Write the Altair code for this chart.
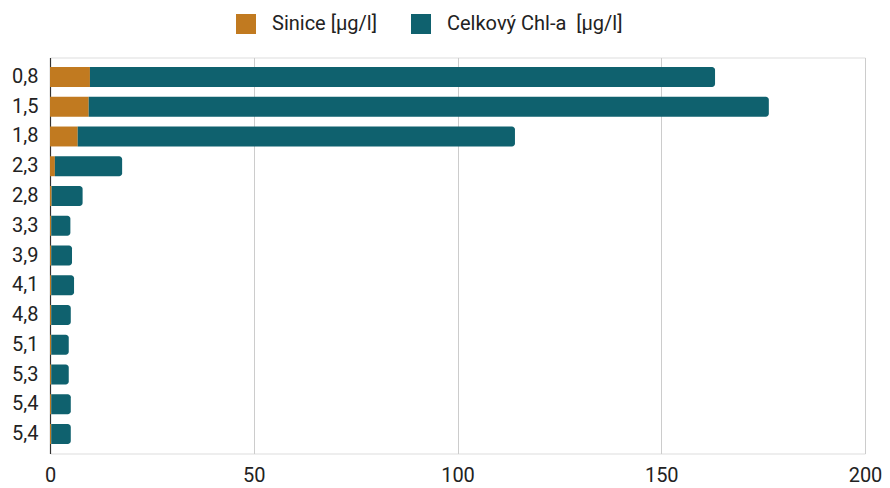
import json
import altair as alt
import pandas as pd

categories = ["0,8", "1,5", "1,8", "2,3", "2,8", "3,3", "3,9", "4,1", "4,8", "5,1", "5,3", "5,4", "5,4"]
sinice = [9.8, 9.5, 6.8, 1.2, 0.4, 0.3, 0.3, 0.3, 0.3, 0.3, 0.3, 0.3, 0.3]
chl = [153.4, 166.9, 107.3, 16.5, 7.6, 4.7, 5.1, 5.6, 4.8, 4.3, 4.3, 4.8, 4.8]
series = ["Sinice [µg/l]", "Celkový Chl-a\u00a0 [µg/l]"]
colors = ["#C17A20", "#0F616E"]

rows = []
for i, (c, s, h) in enumerate(zip(categories, sinice, chl)):
    rows.append({"idx": i, "series": series[0], "start": 0.0, "end": s})
    rows.append({"idx": i, "series": series[1], "start": s, "end": s + h})
df = pd.DataFrame(rows)

label_expr = json.dumps(categories) + "[datum.value]"

color = alt.Color(
    "series:N",
    scale=alt.Scale(domain=series, range=colors),
    sort=series,
    legend=alt.Legend(
        title=None, orient="none", legendX=186, legendY=-43.5, direction="horizontal",
        symbolType="square", symbolSize=400, symbolStrokeWidth=0, padding=0,
        labelFontSize=20, labelFont="Roboto", labelColor="#222222",
        columnPadding=34, labelOffset=16, labelLimit=400,
    ),
)

y = alt.Y(
    "idx:O",
    scale=alt.Scale(paddingInner=0.33, paddingOuter=0.32),
    axis=alt.Axis(
        title=None, labelExpr=label_expr, ticks=False, domain=True,
        domainColor="#333333", domainWidth=1.2, labelFontSize=20,
        labelFont="Roboto", labelColor="#222222", labelPadding=12, grid=False,
    ),
)
x = alt.X(
    "start:Q",
    scale=alt.Scale(domain=[0, 200], nice=False),
    axis=alt.Axis(
        title=None, values=[0, 50, 100, 150, 200], ticks=False, domain=False,
        grid=True, gridColor="#cccccc", gridWidth=1, labelFontSize=20,
        labelFont="Roboto", labelColor="#222222", labelPadding=12, labelFlush=False,
    ),
)

base = alt.Chart(df)
orange = base.transform_filter(alt.datum.series == series[0]).mark_bar().encode(
    y=y, x=x, x2="end:Q", color=color
)
teal = base.transform_filter(alt.datum.series == series[1]).mark_bar(
    cornerRadiusTopRight=3, cornerRadiusBottomRight=3
).encode(y=y, x=x, x2="end:Q", color=color)

chart = (
    alt.layer(orange, teal)
    .properties(width=815, height=396, padding={"left": 3, "right": 0, "top": 5.5, "bottom": 0})
    .configure_view(stroke=None)
    .configure(font="Roboto")
)

chart.save("out.html", embed_options={"renderer": "svg", "actions": False})
